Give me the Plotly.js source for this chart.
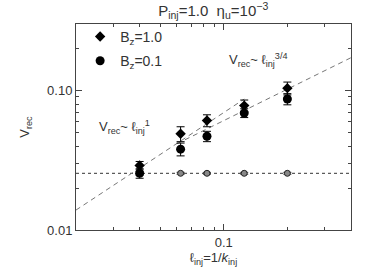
<!DOCTYPE html>
<html>
<head>
<meta charset="utf-8">
<script src="https://cdn.plot.ly/plotly-3.0.1.min.js"></script>
<style>html,body{margin:0;padding:0;background:#fff;}#chart{width:374px;height:280px;}</style>
</head>
<body>
<div id="chart"></div>
<script>
// injection scales l_inj = 1/k_inj
var lInj = [0.04, 0.0625, 0.0833, 0.125, 0.2];
// B_z = 1.0 series
var vB1 = [0.029, 0.049, 0.061, 0.078, 0.104];
var errB1 = [0.002, 0.006, 0.006, 0.0075, 0.011];
// B_z = 0.1 series
var vB01 = [0.0255, 0.038, 0.047, 0.069, 0.087];
var errB01 = [0.002, 0.004, 0.004, 0.005, 0.008];
// reference level (grey points on dotted line)
var vRef = [0.0255, 0.0255, 0.0255, 0.0255, 0.0255];
var errRef = [0.0008, 0.0004, 0.0004, 0.0004, 0.0004];
var refLevel = 0.0255;
// scaling guide lines
var fit1X = [0.02, 0.125];
var fit1Y = [0.0139, 0.0869];
var fit34X = [0.06, 0.4];
var fit34Y = [0.0415, 0.172];
var xRange = [0.02, 0.4];

var font = {family: 'Liberation Sans, Arial, sans-serif', size: 13, color: '#333'};

var traces = [
  {x: xRange, y: [refLevel, refLevel], mode: 'lines', line: {color: '#333', width: 1, dash: 'dot'}, showlegend: false, hoverinfo: 'skip'},
  {x: fit1X, y: fit1Y, mode: 'lines', line: {color: '#777', width: 1, dash: '5px,4px'}, showlegend: false},
  {x: fit34X, y: fit34Y, mode: 'lines', line: {color: '#777', width: 1, dash: '5px,4px'}, showlegend: false},
  {x: lInj, y: vRef, mode: 'markers', showlegend: false,
   marker: {symbol: 'circle', size: 6, color: '#888', line: {color: '#222', width: 1}},
   error_y: {type: 'data', array: errRef, color: '#444', thickness: 1, width: 4}},
  {x: lInj, y: vB1, mode: 'markers', name: 'B<sub>z</sub>=1.0', legendgroup: 'a',
   marker: {symbol: 'diamond', size: 8, color: '#000'},
   error_y: {type: 'data', array: errB1, color: '#000', thickness: 1, width: 4}},
  {x: lInj, y: vB01, mode: 'markers', name: 'B<sub>z</sub>=0.1', legendgroup: 'b',
   marker: {symbol: 'circle', size: 9, color: '#000'},
   error_y: {type: 'data', array: errB01, color: '#000', thickness: 1, width: 4}}
];

var axisCommon = {
  type: 'log', showline: true, linecolor: '#444', linewidth: 1, mirror: 'ticks',
  ticks: 'inside', ticklen: 6, tickcolor: '#444', showgrid: false, zeroline: false,
  tickfont: font,
  minor: {ticks: 'inside', ticklen: 3, tickcolor: '#444', dtick: 'D1', showgrid: false}
};

var layout = {
  width: 374, height: 280,
  margin: {l: 76, r: 23, t: 24, b: 50},
  paper_bgcolor: '#fff', plot_bgcolor: '#fff',
  font: font,
  title: {text: 'P<sub>inj</sub>=1.0  η<sub>u</sub>=10<sup>−3</sup>', font: {family: font.family, size: 15, color: '#333'}, x: 0.57, xanchor: 'center', y: 0.962, yanchor: 'middle'},
  xaxis: Object.assign({}, axisCommon, {
    range: [Math.log10(xRange[0]), Math.log10(xRange[1])],
    tickvals: [0.1], ticktext: ['0.1'],
    title: {text: 'ℓ<sub>inj</sub>=1/<i>k</i><sub>inj</sub>', font: font, standoff: 4}
  }),
  yaxis: Object.assign({}, axisCommon, {
    range: [Math.log10(0.01), Math.log10(0.3)],
    tickvals: [0.01, 0.1], ticktext: ['0.01', '0.10'],
    title: {text: 'V<sub>rec</sub>', font: font, standoff: 14}
  }),
  showlegend: true,
  legend: {x: 0.015, y: 1.015, xanchor: 'left', yanchor: 'top', bgcolor: 'rgba(0,0,0,0)', font: {family: font.family, size: 14, color: '#333'}, itemwidth: 30, traceorder: 'grouped', tracegroupgap: 3},
  annotations: [
    {xref: 'paper', yref: 'paper', x: 0.075, y: 0.5, xanchor: 'left', yanchor: 'middle', showarrow: false, font: font,
     text: 'V<sub>rec</sub>~ ℓ<sub>inj</sub><sup>1</sup>'},
    {xref: 'paper', yref: 'paper', x: 0.55, y: 0.825, xanchor: 'left', yanchor: 'middle', showarrow: false, font: font,
     text: 'V<sub>rec</sub>~ ℓ<sub>inj</sub><sup>3/4</sup>'}
  ]
};

Plotly.newPlot('chart', traces, layout, {displayModeBar: false, staticPlot: true});
</script>
</body>
</html>
